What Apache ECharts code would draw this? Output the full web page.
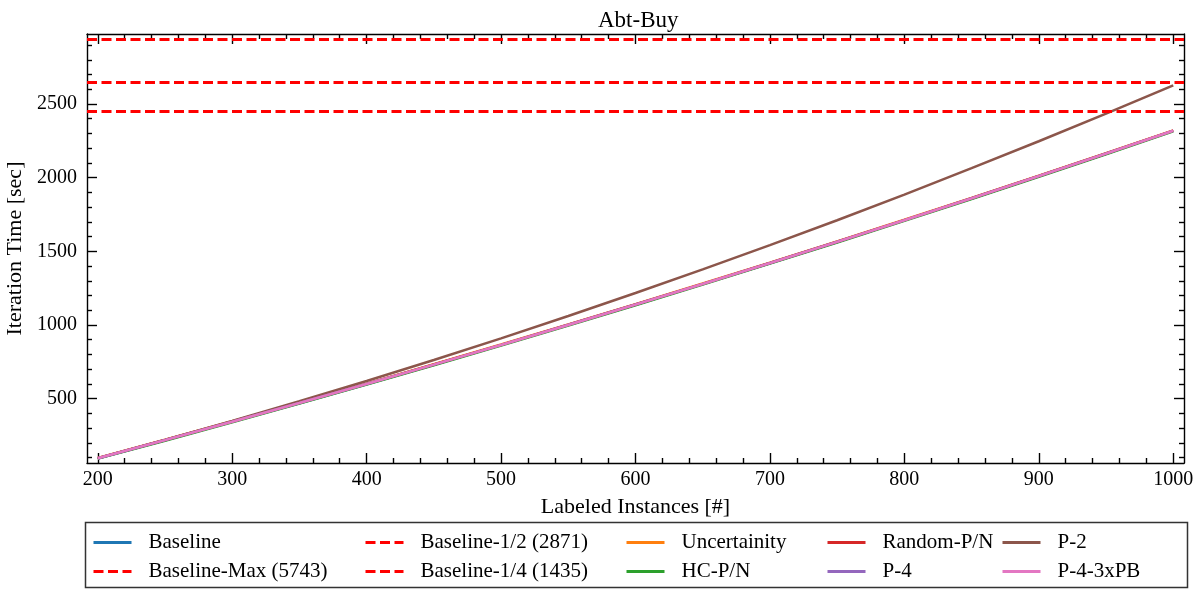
<!DOCTYPE html>
<html>
<head>
<meta charset="utf-8">
<title>Abt-Buy</title>
<script src="https://cdn.jsdelivr.net/npm/echarts@6/dist/echarts.min.js"></script>
<style>
  html, body { margin: 0; padding: 0; background: #ffffff; }
  #chart { width: 1199px; height: 590px; }
</style>
</head>
<body>
<div id="chart"></div>
<script>
// Labeled instances (x) and iteration time in seconds (y) per strategy
const instances = [200, 250, 300, 350, 400, 450, 500, 550, 600, 650, 700, 750, 800, 850, 900, 950, 1000];

const baselineTime    = [94, 217, 342, 469, 598, 730, 863, 999, 1137, 1277, 1419, 1563, 1710, 1858, 2009, 2162, 2317];
const uncertaintyTime = [97, 221, 346, 473, 602, 734, 867, 1003, 1141, 1281, 1423, 1567, 1714, 1862, 2013, 2166, 2321];
const hcTime          = [93, 214, 339, 466, 595, 727, 860, 996, 1134, 1274, 1416, 1560, 1707, 1855, 2006, 2159, 2314];
const randomTime      = [96, 219, 344, 471, 600, 732, 865, 1001, 1139, 1279, 1421, 1565, 1712, 1860, 2011, 2164, 2319];
const p2Time          = [95, 219, 348, 482, 620, 762, 909, 1061, 1217, 1377, 1542, 1711, 1885, 2064, 2247, 2434, 2626];
const p4Time          = [95, 219, 344, 471, 600, 731, 865, 1001, 1139, 1279, 1421, 1565, 1712, 1860, 2011, 2164, 2319];
const p43xpbTime      = [95, 218, 343, 470, 599, 731, 864, 1000, 1138, 1278, 1420, 1564, 1711, 1859, 2010, 2163, 2318];

// Horizontal reference levels (seconds)
const baselineMaxLevel = 2942;
const baselineHalfLevel = 2647;
const baselineQuarterLevel = 2454;

// Tick values
const xMajorTicks = [200, 300, 400, 500, 600, 700, 800, 900, 1000];
const xMinorTicks = [220, 240, 260, 280, 320, 340, 360, 380, 420, 440, 460, 480, 520, 540, 560, 580,
                     620, 640, 660, 680, 720, 740, 760, 780, 820, 840, 860, 880, 920, 940, 960, 980];
const yMajorTicks = [500, 1000, 1500, 2000, 2500];
const yMinorTicks = [100, 200, 300, 400, 600, 700, 800, 900, 1100, 1200, 1300, 1400, 1600, 1700, 1800, 1900,
                     2100, 2200, 2300, 2400, 2600, 2700, 2800, 2900];

const FONT = 'Liberation Serif';
const AXIS_COLOR = '#000000';

function pairs(xs, ys) { return xs.map((x, i) => [x, ys[i]]); }
function plain(v) { return String(v); }

function xAxisDef(position, ticks, len, showLine, showLabel) {
  return {
    type: 'value', position: position, min: 192, max: 1008,
    axisLine: { show: showLine, onZero: false, lineStyle: { color: AXIS_COLOR, width: 1.4 } },
    axisTick: { show: true, inside: true, length: len, customValues: ticks, lineStyle: { color: AXIS_COLOR, width: 1.4 } },
    axisLabel: showLabel ? { show: true, customValues: ticks, formatter: plain, margin: 7, color: '#000', fontFamily: FONT, fontSize: 20 } : { show: false },
    splitLine: { show: false }
  };
}
function yAxisDef(position, ticks, len, showLine, showLabel) {
  return {
    type: 'value', position: position, min: 63, max: 2975,
    axisLine: { show: showLine, onZero: false, lineStyle: { color: AXIS_COLOR, width: 1.4 } },
    axisTick: { show: true, inside: true, length: len, customValues: ticks, lineStyle: { color: AXIS_COLOR, width: 1.4 } },
    axisLabel: showLabel ? { show: true, customValues: ticks, formatter: plain, margin: 10, color: '#000', fontFamily: FONT, fontSize: 20 } : { show: false },
    splitLine: { show: false }
  };
}

const xAxes = [
  xAxisDef('bottom', xMajorTicks, 10, true, true),
  xAxisDef('bottom', xMinorTicks, 5, false, false),
  xAxisDef('top', xMajorTicks, 10, true, false),
  xAxisDef('top', xMinorTicks, 5, false, false)
];
Object.assign(xAxes[0], {
  name: 'Labeled Instances [#]', nameLocation: 'middle', nameGap: 33,
  nameTextStyle: { color: '#000', fontFamily: FONT, fontSize: 22 }
});

const yAxes = [
  yAxisDef('left', yMajorTicks, 10, true, true),
  yAxisDef('left', yMinorTicks, 5, false, false),
  yAxisDef('right', yMajorTicks, 10, true, false),
  yAxisDef('right', yMinorTicks, 5, false, false)
];
Object.assign(yAxes[0], {
  name: 'Iteration Time [sec]', nameLocation: 'middle', nameGap: 55,
  nameTextStyle: { color: '#000', fontFamily: FONT, fontSize: 22 }
});

function curve(name, color, values) {
  return {
    name: name, type: 'line', xAxisIndex: 0, yAxisIndex: 0,
    data: pairs(instances, values), showSymbol: false, symbol: 'none',
    lineStyle: { color: color, width: 2.5 }, itemStyle: { color: color },
    emphasis: { disabled: true }, animation: false
  };
}
function level(name, value) {
  return {
    name: name, type: 'line', xAxisIndex: 0, yAxisIndex: 0, data: [], symbol: 'none',
    lineStyle: { color: '#ff0000', width: 2.8, type: [10, 4.5] }, itemStyle: { color: '#ff0000' },
    markLine: {
      silent: true, symbol: ['none', 'none'], label: { show: false },
      lineStyle: { color: '#ff0000', width: 2.8, type: [10, 4.5] },
      data: [{ yAxis: value }], animation: false
    },
    animation: false
  };
}

const series = [
  curve('Baseline', '#1f77b4', baselineTime),
  level('Baseline-Max (5743)', baselineMaxLevel),
  level('Baseline-1/2 (2871)', baselineHalfLevel),
  level('Baseline-1/4 (1435)', baselineQuarterLevel),
  curve('Uncertainity', '#ff7f0e', uncertaintyTime),
  curve('HC-P/N', '#2ca02c', hcTime),
  curve('Random-P/N', '#d62728', randomTime),
  curve('P-2', '#8c564b', p2Time),
  curve('P-4', '#9467bd', p4Time),
  curve('P-4-3xPB', '#e377c2', p43xpbTime)
];

// Legend: five columns of two entries each
const legendColumns = [
  { left: 92,  names: ['Baseline', 'Baseline-Max (5743)'] },
  { left: 364, names: ['Baseline-1/2 (2871)', 'Baseline-1/4 (1435)'] },
  { left: 625, names: ['Uncertainity', 'HC-P/N'] },
  { left: 826, names: ['Random-P/N', 'P-4'] },
  { left: 1001, names: ['P-2', 'P-4-3xPB'] }
];
const legends = legendColumns.map(col => ({
  show: true, orient: 'vertical', left: col.left, top: 532,
  data: col.names, itemWidth: 38, itemHeight: 16, itemGap: 8,
  selectedMode: false, padding: 0,
  itemStyle: { opacity: 0 },
  lineStyle: { width: 3 },
  textStyle: { color: '#000', fontFamily: FONT, fontSize: 21, lineHeight: 16, padding: [0, 0, 0, 12] }
}));

const chart = echarts.init(document.getElementById('chart'), null, { renderer: 'canvas' });
chart.setOption({
  animation: false,
  backgroundColor: '#ffffff',
  title: {
    text: 'Abt-Buy', left: 593, top: 4,
    textStyle: { color: '#000', fontFamily: FONT, fontSize: 23, fontWeight: 'normal' }
  },
  grid: { left: 87, right: 15, top: 34, bottom: 127, containLabel: false, outerBoundsMode: 'none' },
  xAxis: xAxes,
  yAxis: yAxes,
  legend: legends,
  series: series,
  graphic: [{
    type: 'rect', shape: { x: 85.5, y: 522.5, width: 1102, height: 65 },
    style: { fill: 'none', stroke: '#333333', lineWidth: 1.5 },
    silent: true
  }]
});
</script>
</body>
</html>
